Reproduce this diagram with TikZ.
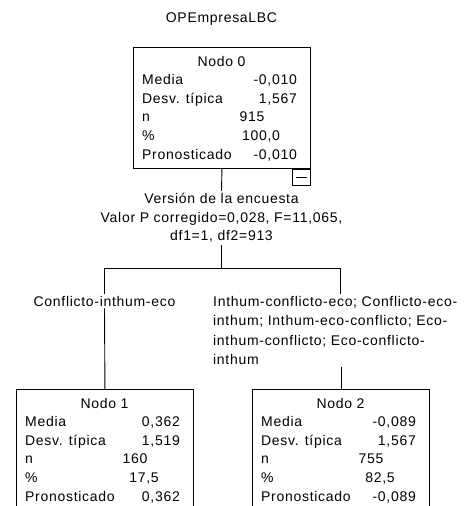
\documentclass[tikz,border=0pt]{standalone}
\usepackage{fontspec}
\setmainfont{Liberation Sans}[LetterSpace=5]
\tikzset{
  treeline/.style={draw=black, line width=0.9pt},
  statframe/.style={draw=black, line width=0.9pt, minimum width=177, minimum height=121, inner sep=0, anchor=north west},
  txt/.style={inner sep=0, font=\fontsize{14}{19}\selectfont},
  branchlab/.style={inner sep=2, font=\fontsize{14}{19.5}\selectfont},
}
\newcommand\statbox[9]{%
  \node[statframe] (#1) at (#2,#3) {};
  \node[txt, anchor=base] (#1-t) at ({#2+88.5},{#3+19}) {#4};
  \node[txt, anchor=base west] (#1-la) at ({#2+9},{#3+37.6}) {Media};
  \node[txt, anchor=base east] (#1-va) at ({#2+164},{#3+37.6}) {#5};
  \node[txt, anchor=base west] (#1-lb) at ({#2+9},{#3+56.2}) {Desv. típica};
  \node[txt, anchor=base east] (#1-vb) at ({#2+164},{#3+56.2}) {#6};
  \node[txt, anchor=base west] (#1-lc) at ({#2+9},{#3+74.8}) {n};
  \node[txt, anchor=base] (#1-vc) at ({#2+119},{#3+74.8}) {#7};
  \node[txt, anchor=base west] (#1-ld) at ({#2+9},{#3+93.4}) {\%};
  \node[txt, anchor=base] (#1-vd) at ({#2+128},{#3+93.4}) {#8};
  \node[txt, anchor=base west] (#1-le) at ({#2+9},{#3+112}) {Pronosticado};
  \node[txt, anchor=base east] (#1-ve) at ({#2+164},{#3+112}) {#9};
}
\begin{document}
\begin{tikzpicture}[x=1pt,y=-1pt]
\useasboundingbox (0,0) rectangle (466,506);
\clip (0,0) rectangle (466,506);
\fill[white] (0,0) rectangle (466,506);

\node[txt, anchor=base] (title) at (221.5,23) {OPEmpresaLBC};

\statbox{n0}{133}{47}{Nodo 0}{-0,010}{1,567}{915}{100,0}{-0,010}
\statbox{n1}{16}{389}{Nodo 1}{0,362}{1,519}{160}{17,5}{0,362}
\statbox{n2}{252}{389}{Nodo 2}{-0,089}{1,567}{755}{82,5}{-0,089}

% collapse box
\node[draw=black, line width=0.9pt, minimum width=18, minimum height=16, inner sep=0, anchor=north east] (mb) at (n0.south east) {};
\draw[treeline] ([xshift=4]mb.west) -- ([xshift=-4]mb.east);

% split label
\node[branchlab, font=\fontsize{14}{18.7}\selectfont, align=center, anchor=north] (sp) at (221.5,191)
  {Versión de la encuesta\\Valor P corregido=0,028, F=11,065,\\df1=1, df2=913};

\coordinate (j) at (221.5,268);
\coordinate (c1) at (104.5,268);
\coordinate (c2) at (340.5,268);

\draw[treeline] (n0.south) -- (sp.north);
\draw[treeline] (sp.south) -- (j);
\draw[treeline] (c1) -- (c2);

% branch labels
\node[branchlab, anchor=center, fill=white] (l1) at (104.5,301) {Conflicto-inthum-eco};
\node[branchlab, align=left, anchor=north west] (l2) at (211,293.8)
  {Inthum-conflicto-eco; Conflicto-eco-\\inthum; Inthum-eco-conflicto; Eco-\\inthum-conflicto; Eco-conflicto-\\inthum};

\draw[treeline] (c1) -- (l1.north);
\draw[treeline] (l1.south) -- (n1.north);
\draw[treeline] (c2) -- (c2 |- l2.north);
\draw[treeline] (l2.south -| n2.north) -- (n2.north);
\end{tikzpicture}
\end{document}
